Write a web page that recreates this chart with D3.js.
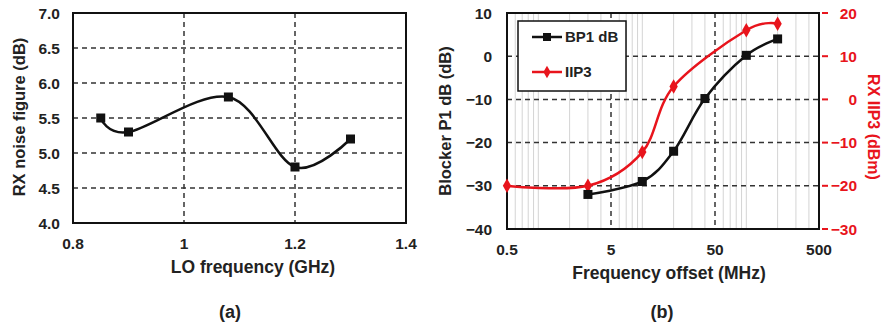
<!DOCTYPE html>
<html>
<head>
<meta charset="utf-8">
<script src="https://cdn.jsdelivr.net/npm/d3@7"></script>
<style>
  body { margin: 0; background: #fff; }
  svg { display: block; font-family: "Liberation Sans", Arial, sans-serif; font-weight: bold; }
</style>
</head>
<body>
<svg width="883" height="330"></svg>
<script>
// (a) noise figure vs LO frequency
const loFreq = [0.85, 0.9, 1.08, 1.2, 1.3];
const noiseFig = [5.5, 5.3, 5.8, 4.8, 5.2];
const nfTicks = [4.0, 4.5, 5.0, 5.5, 6.0, 6.5, 7.0];
const loTicks = [0.8, 1, 1.2, 1.4];

// (b) blocker P1dB and IIP3 vs offset
const bpOffset = [3, 10, 20, 40, 100, 200];
const bpValues = [-32, -29, -22, -9.8, 0.2, 4];
const iipOffset = [0.5, 3, 10, 20, 100, 200];
const iipValues = [-20, -20, -12.2, 3, 16, 17.5];
const bpTicks = [-40, -30, -20, -10, 0, 10];
const iipTicks = [-30, -20, -10, 0, 10, 20];
const offsetTicks = [0.5, 5, 50, 500];

const red = '#e8141c';
const svg = d3.select('svg');
const minus = d => String(d).replace('-', '\u2212');

// ---------- chart (a) ----------
const xa = d3.scaleLinear().domain([0.8, 1.4]).range([73, 406]);
const ya = d3.scaleLinear().domain([4, 7]).range([223, 13]);
const ga = svg.append('g');

ga.selectAll('.hg').data(nfTicks.slice(1, -1)).enter().append('line')
  .attr('x1', 73).attr('x2', 406).attr('y1', d => ya(d)).attr('y2', d => ya(d))
  .attr('stroke', '#333').attr('stroke-width', 1.5).attr('stroke-dasharray', '5,4');
ga.selectAll('.vg').data([1, 1.2]).enter().append('line')
  .attr('y1', 13).attr('y2', 223).attr('x1', d => xa(d)).attr('x2', d => xa(d))
  .attr('stroke', '#333').attr('stroke-width', 1.5).attr('stroke-dasharray', '5,4');
ga.append('rect').attr('x', 73).attr('y', 13).attr('width', 333).attr('height', 210)
  .attr('fill', 'none').attr('stroke', '#111').attr('stroke-width', 2);

ga.selectAll('.yt').data(nfTicks).enter().append('text')
  .attr('x', 60).attr('y', d => ya(d) + 5.5).attr('text-anchor', 'end')
  .attr('font-size', 15.5).attr('fill', '#222').text(d => d.toFixed(1));
ga.selectAll('.xt').data(loTicks).enter().append('text')
  .attr('x', d => xa(d)).attr('y', 249).attr('text-anchor', 'middle')
  .attr('font-size', 15.5).attr('fill', '#222').text(d => d);
ga.append('text').attr('x', 253).attr('y', 273).attr('text-anchor', 'middle')
  .attr('font-size', 17.5).attr('fill', '#222').text('LO frequency (GHz)');
ga.append('text').attr('transform', 'translate(25,117) rotate(-90)').attr('text-anchor', 'middle')
  .attr('font-size', 16.5).attr('fill', '#222').text('RX noise figure (dB)');
ga.append('text').attr('x', 230).attr('y', 318).attr('text-anchor', 'middle')
  .attr('font-size', 18).attr('fill', '#222').text('(a)');

const nfData = loFreq.map((f, i) => [f, noiseFig[i]]);
ga.append('path').datum(nfData)
  .attr('d', d3.line().x(d => xa(d[0])).y(d => ya(d[1])).curve(d3.curveCardinal.tension(0)))
  .attr('fill', 'none').attr('stroke', '#111').attr('stroke-width', 2.5);
ga.selectAll('.m').data(nfData).enter().append('rect')
  .attr('x', d => xa(d[0]) - 4.5).attr('y', d => ya(d[1]) - 4.5)
  .attr('width', 9).attr('height', 9).attr('fill', '#111');

// ---------- chart (b) ----------
const L = 507, R = 819, T = 13, B = 229;
const xb = d3.scaleLog().domain([0.5, 500]).range([L, R]);
const yb = d3.scaleLinear().domain([-40, 10]).range([B, T]);
const yr = d3.scaleLinear().domain([-30, 20]).range([B, T]);
const gb = svg.append('g');

// minor log grid
const minor = [];
[0.1, 1, 10, 100].forEach(dec => {
  for (let k = 1; k <= 9; k++) {
    const v = +(k * dec).toPrecision(3);
    if (v > 0.5 && v < 500 && v !== 5 && v !== 50) minor.push(v);
  }
});
gb.selectAll('.mg').data(minor).enter().append('line')
  .attr('x1', d => xb(d)).attr('x2', d => xb(d)).attr('y1', T).attr('y2', B)
  .attr('stroke', '#d4d4d4').attr('stroke-width', 1);
gb.selectAll('.vg').data([5, 50]).enter().append('line')
  .attr('x1', d => xb(d)).attr('x2', d => xb(d)).attr('y1', T).attr('y2', B)
  .attr('stroke', '#333').attr('stroke-width', 1.5).attr('stroke-dasharray', '5,4');
gb.selectAll('.hg').data([-30, -20, -10, 0]).enter().append('line')
  .attr('x1', L).attr('x2', R).attr('y1', d => yb(d)).attr('y2', d => yb(d))
  .attr('stroke', '#333').attr('stroke-width', 1.5).attr('stroke-dasharray', '5,4');
gb.append('rect').attr('x', L).attr('y', T).attr('width', R - L).attr('height', B - T)
  .attr('fill', 'none').attr('stroke', '#111').attr('stroke-width', 2);

// right red ticks
gb.selectAll('.rt').data(iipTicks).enter().append('line')
  .attr('x1', R + 3).attr('x2', R + 9).attr('y1', d => yr(d)).attr('y2', d => yr(d))
  .attr('stroke', red).attr('stroke-width', 2);

gb.selectAll('.yt').data(bpTicks).enter().append('text')
  .attr('x', 492).attr('y', d => yb(d) + 5.5).attr('text-anchor', 'end')
  .attr('font-size', 15.5).attr('fill', '#222').text(minus);
gb.selectAll('.yr').data(iipTicks).enter().append('text')
  .attr('x', 857).attr('y', d => yr(d) + 5.5).attr('text-anchor', 'end')
  .attr('font-size', 15.5).attr('fill', red).text(minus);
gb.selectAll('.xt').data(offsetTicks).enter().append('text')
  .attr('x', d => xb(d)).attr('y', 255).attr('text-anchor', 'middle')
  .attr('font-size', 15.5).attr('fill', '#222').text(d => d);
gb.append('text').attr('x', 669).attr('y', 279).attr('text-anchor', 'middle')
  .attr('font-size', 17.5).attr('fill', '#222').text('Frequency offset (MHz)');
gb.append('text').attr('transform', 'translate(451,121) rotate(-90)').attr('text-anchor', 'middle')
  .attr('font-size', 16.5).attr('fill', '#222').text('Blocker P1 dB (dB)');
gb.append('text').attr('transform', 'translate(868,127) rotate(90)').attr('text-anchor', 'middle')
  .attr('font-size', 16).attr('fill', red).text('RX IIP3 (dBm)');
gb.append('text').attr('x', 662).attr('y', 318).attr('text-anchor', 'middle')
  .attr('font-size', 18).attr('fill', '#222').text('(b)');

const curve = d3.curveCardinal.tension(0);
const bpData = bpOffset.map((f, i) => [f, bpValues[i]]);
const iipData = iipOffset.map((f, i) => [f, iipValues[i]]);

gb.append('path').datum(iipData)
  .attr('d', d3.line().x(d => xb(d[0])).y(d => yr(d[1])).curve(curve))
  .attr('fill', 'none').attr('stroke', red).attr('stroke-width', 2.5);
gb.append('path').datum(bpData)
  .attr('d', d3.line().x(d => xb(d[0])).y(d => yb(d[1])).curve(curve))
  .attr('fill', 'none').attr('stroke', '#111').attr('stroke-width', 2.5);

const diamond = d3.symbol().type(d3.symbolDiamond).size(60);
gb.selectAll('.dm').data(iipData).enter().append('path')
  .attr('d', diamond).attr('transform', d => `translate(${xb(d[0])},${yr(d[1])})`)
  .attr('fill', red);
gb.selectAll('.sq').data(bpData).enter().append('rect')
  .attr('x', d => xb(d[0]) - 4.5).attr('y', d => yb(d[1]) - 4.5)
  .attr('width', 9).attr('height', 9).attr('fill', '#111');

// legend
const lg = gb.append('g');
lg.append('rect').attr('x', 518).attr('y', 21).attr('width', 108).attr('height', 70)
  .attr('fill', '#fff').attr('stroke', '#111').attr('stroke-width', 1.5);
const legendItems = [
  { label: 'BP1 dB', color: '#111', y: 37, sym: 'sq' },
  { label: 'IIP3', color: red, y: 72, sym: 'dm' }
];
legendItems.forEach(it => {
  lg.append('line').attr('x1', 532).attr('x2', 562).attr('y1', it.y).attr('y2', it.y)
    .attr('stroke', it.color).attr('stroke-width', 2.5);
  if (it.sym === 'sq') {
    lg.append('rect').attr('x', 543).attr('y', it.y - 4).attr('width', 8).attr('height', 8).attr('fill', it.color);
  } else {
    lg.append('path').attr('d', d3.symbol().type(d3.symbolDiamond).size(45))
      .attr('transform', `translate(547,${it.y})`).attr('fill', it.color);
  }
  lg.append('text').attr('x', 565).attr('y', it.y + 5).attr('font-size', 15)
    .attr('fill', '#222').text(it.label);
});
</script>
</body>
</html>
